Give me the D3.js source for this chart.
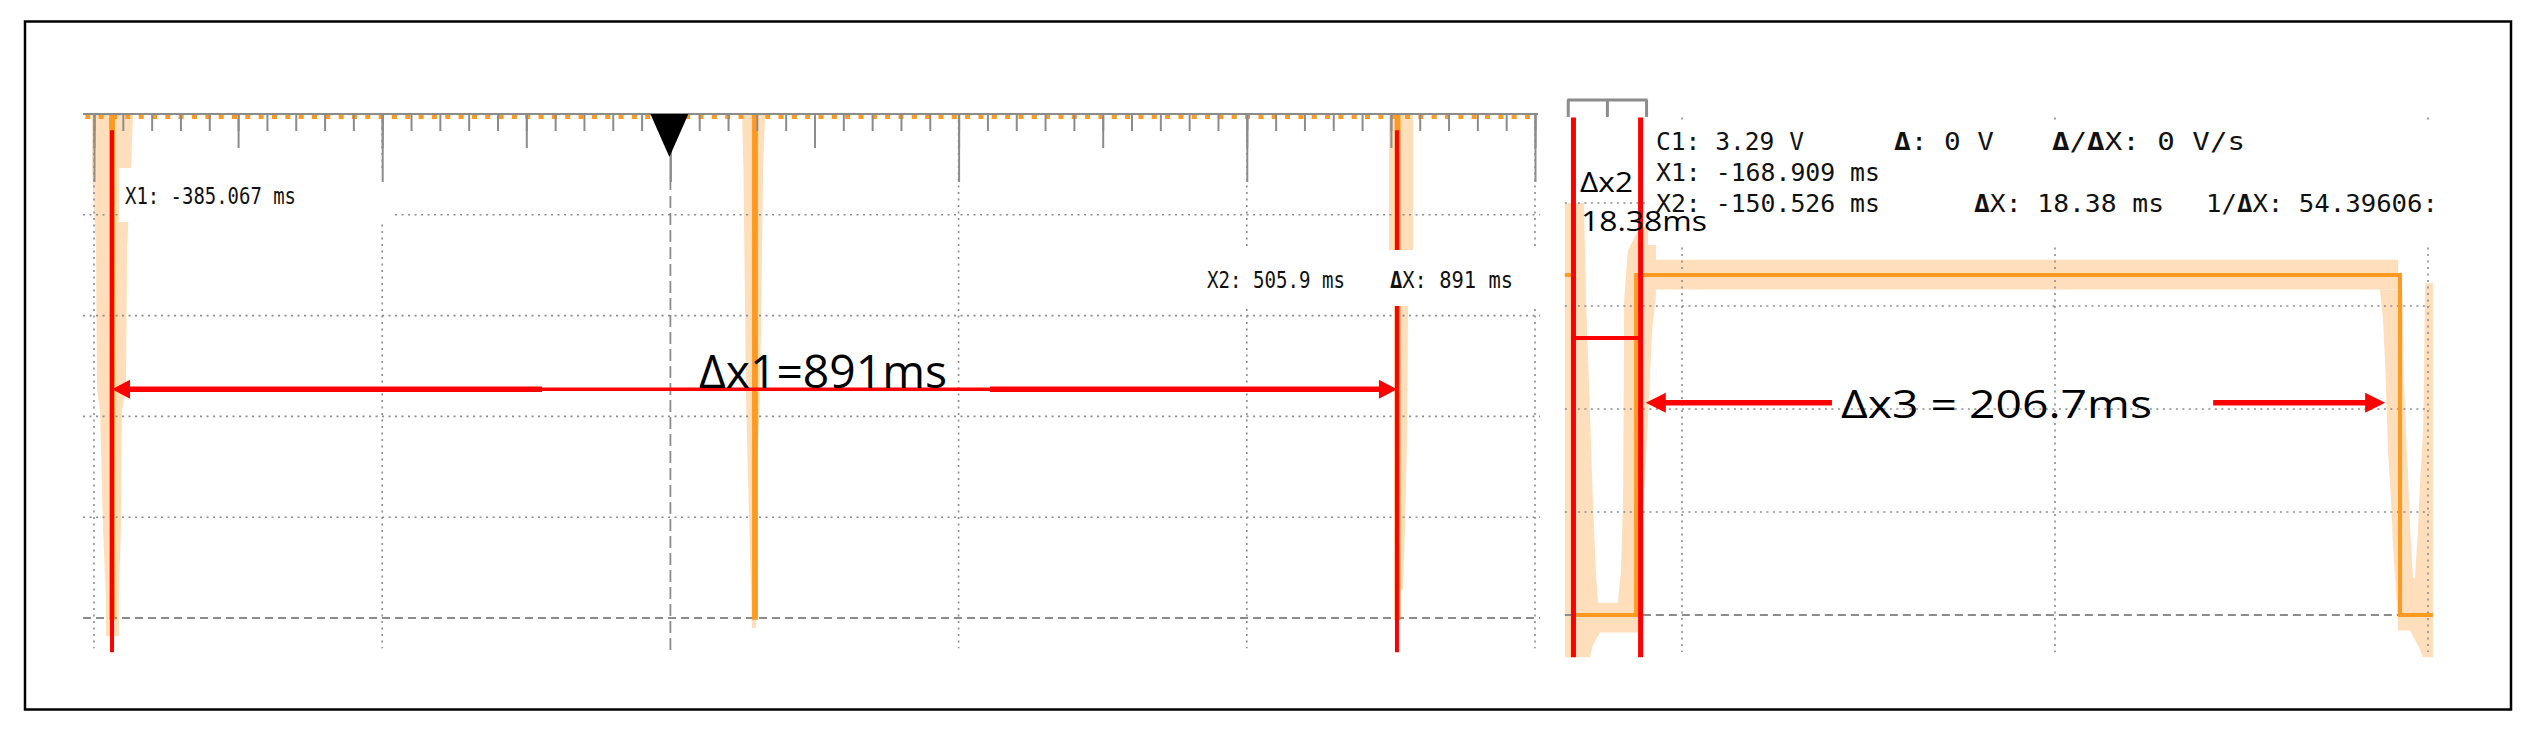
<!DOCTYPE html>
<html>
<head>
<meta charset="utf-8">
<script src="https://cdn.jsdelivr.net/npm/d3@7"></script>
<style>
  body { margin: 0; background: #fff; }
  svg { display: block; }
</style>
</head>
<body>
<div id="chart"></div>
<script>

// left capture: 200 ms/div, 0.5 V/div (high level sits above the screen)
const leftTimeDomain = [-400, 600];
const leftVoltDomain = [0, 2.5];
const leftGridTimes = [-400, -200, 200, 400, 600];
const leftGridVolts = [0.5, 1, 1.5, 2];
const leftTickStep = 20;
const leftPulses = [[-388.3, -386.7], [57.9, 59.5], [503.8, 505.4]]; // fall, rise (ms)
const leftCursors = [-387.5, 504.2];
const leftEnvelopes = [
  [[-401.4, 2.5], [-372.9, 2.5], [-374.3, 2.23], [-377.1, 1.83], [-377.8, 1.13], [-380.6, 1.03],
   [-381.3, 0.45], [-382.7, 0.09], [-382.7, -0.09], [-391.7, -0.09], [-391.7, 0.09], [-393.8, 0.45],
   [-395.8, 1.03], [-397.9, 1.13], [-398.6, 1.83], [-401.4, 2.23]],
  [[49.7, 2.5], [65.7, 2.5], [64.3, 2.22], [62.2, 1.08], [59.4, 0.68], [59.4, -0.05],
   [56.6, -0.05], [53.9, 0.68], [52.5, 1.08], [50.7, 2.22]],
  [[498.7, 2.5], [515.3, 2.5], [515.3, 1.81], [511.9, 1.55], [511.2, 0.88], [509.8, 0.46],
   [508.4, 0.14], [502.8, 0.14], [502.8, 1.55], [498.7, 1.81]]
];
const leftReadouts = ["X1: -385.067 ms", "X2: 505.9 ms", "ΔX: 891 ms"];
const dx1 = {from: -387.5, to: 504.2, level: 1.135, label: "Δx1=891ms"};

// right capture: 100 ms/div, 1 V/div
const rightTimeDomain = [-140, 60];
const rightVoltDomain = [0, 4];
const rightGridTimes = [-140, -40, 60];
const rightGridVolts = [1, 2, 3, 4];
const rightRulerTicks = [-170.5, -160, -149.5];
const rightTrace = [[-171.4, 3.3], [-169.1, 3.3], [-169.1, 0], [-152.3, 0], [-152.3, 3.3],
  [52.5, 3.3], [52.5, 0], [61.3, 0]];
const rightCursors = [-169.1, -151.1];
const rightEnvelopes = [
  [[-171.4, 4.0], [-166.3, 4.0], [-165.7, 3.06], [-163.9, 1.12], [-163.1, 0.41], [-162.5, 0.12],
   [-157.2, 0.12], [-156.4, 0.41], [-155.8, 1.12], [-155.5, 3.06], [-154.5, 3.54], [-151.3, 3.77],
   [-148.6, 3.77], [-147.0, 3.64], [-147.0, 3.09], [-148.0, 2.77], [-149.7, 1.48], [-151.3, 0.50],
   [-151.3, -0.17], [-162.0, -0.17], [-163.9, -0.29], [-164.7, -0.41], [-171.4, -0.41]],
  [[-151.3, 3.45], [52.0, 3.45], [52.0, 3.16], [-151.3, 3.16]],
  [[47.1, 3.16], [47.9, 2.89], [48.5, 2.45], [49.3, 1.57], [50.1, 1.12], [50.6, 0.70], [51.4, 0.24],
   [52.0, -0.15], [55.2, -0.15], [56.5, -0.24], [57.9, -0.34], [58.7, -0.41], [61.3, -0.41],
   [61.3, 3.22], [59.2, 3.22], [58.9, 2.25], [58.7, 1.80], [57.9, 1.31], [57.3, 0.83], [56.5, 0.36],
   [56.0, 0.36], [55.2, 0.83], [54.7, 1.31], [54.1, 1.80], [53.6, 2.25], [53.1, 3.16]]
];
const rightReadoutRows = [
  ["C1: 3.29 V", "Δ: 0 V", "Δ/ΔX: 0 V/s"],
  ["X1: -168.909 ms"],
  ["X2: -150.526 ms", "ΔX: 18.38 ms", "1/ΔX: 54.39606:"]
];
const dx2 = {level: 2.69, label: ["Δx2", "18.38ms"]};
const dx3 = {left: [-99.8, -149.7], right: [2.4, 48.5], level: 2.06, label: "Δx3 = 206.7ms"};

// ---------- drawing ----------
const W = 2544, H = 749;
const ORANGE = "#ff991f", PEACH = "#ffdfbb", RED = "#ff0000", GRID = "#8c8c8c";
const MONO = "'DejaVu Sans Mono', monospace";
const SANS = "'Open Sans', 'Liberation Sans', sans-serif";

const svg = d3.select("#chart").append("svg")
    .attr("width", W)
    .attr("height", H);
svg.append("rect").attr("width", W).attr("height", H).attr("fill", "#fff");

const xL = d3.scaleLinear().domain(leftTimeDomain).range([94, 1535]);
const yL = d3.scaleLinear().domain(leftVoltDomain).range([618, 114]);
const xR = d3.scaleLinear().domain(rightTimeDomain).range([1682, 2428]);
const yR = d3.scaleLinear().domain(rightVoltDomain).range([615, 203]);

const lineL = d3.line().x(d => xL(d[0])).y(d => yL(d[1]));
const lineR = d3.line().x(d => xR(d[0])).y(d => yR(d[1]));

// write monospaced scope text squeezed to a measured width, bold deltas
function scopeText(g, str, x, y, width, size) {
    const t = g.append("text")
        .attr("x", x).attr("y", y)
        .attr("font-family", MONO)
        .attr("font-size", size)
        .attr("fill", "#111")
        .attr("textLength", width)
        .attr("lengthAdjust", "spacingAndGlyphs");
    str.split(/(Δ)/).filter(s => s.length).forEach(s => {
        t.append("tspan").attr("font-weight", s === "Δ" ? "bold" : null).text(s);
    });
}

function arrowHead(g, tipX, y, dir, len, half) {
    g.append("path")
        .attr("d", `M${tipX},${y} L${tipX - dir * len},${y - half} L${tipX - dir * len},${y + half} Z`)
        .attr("fill", RED);
}

// ===== left capture =====
const gL = svg.append("g");

gL.selectAll("path.env").data(leftEnvelopes).join("path")
    .attr("class", "env")
    .attr("d", d => lineL(d) + "Z")
    .attr("fill", PEACH);

// grid
gL.selectAll("line.vgrid").data(leftGridTimes).join("line")
    .attr("class", "vgrid")
    .attr("x1", d => xL(d)).attr("x2", d => xL(d))
    .attr("y1", yL(2.5)).attr("y2", yL(-0.15))
    .attr("stroke", GRID).attr("stroke-width", 1.6).attr("stroke-dasharray", "2,4.5");
gL.selectAll("line.hgrid").data(leftGridVolts).join("line")
    .attr("class", "hgrid")
    .attr("x1", xL(-407.6)).attr("x2", xL(603.5))
    .attr("y1", d => yL(d)).attr("y2", d => yL(d))
    .attr("stroke", GRID).attr("stroke-width", 1.6).attr("stroke-dasharray", "2,4.5");
gL.append("line")
    .attr("x1", xL(-407.6)).attr("x2", xL(603.5))
    .attr("y1", yL(0)).attr("y2", yL(0))
    .attr("stroke", GRID).attr("stroke-width", 2.2).attr("stroke-dasharray", "8,5");
// trigger position line: short solid stem, then dashes
gL.append("line")
    .attr("x1", xL(0)).attr("x2", xL(0))
    .attr("y1", 157).attr("y2", 190)
    .attr("stroke", GRID).attr("stroke-width", 1.8);
gL.append("line")
    .attr("x1", xL(0)).attr("x2", xL(0))
    .attr("y1", 196).attr("y2", yL(-0.17))
    .attr("stroke", GRID).attr("stroke-width", 1.8).attr("stroke-dasharray", "12,5");

// trace pulses (the high level is clipped at the top of the screen)
gL.selectAll("path.pulse").data(leftPulses).join("path")
    .attr("class", "pulse")
    .attr("d", d => lineL([[d[0], 2.5], [d[0], 0], [d[1], 0], [d[1], 2.5]]))
    .attr("fill", "none")
    .attr("stroke", ORANGE)
    .attr("stroke-width", 3.5);

// red cursor lines
gL.selectAll("line.cursor").data(leftCursors).join("line")
    .attr("class", "cursor")
    .attr("x1", d => xL(d)).attr("x2", d => xL(d))
    .attr("y1", yL(2.42)).attr("y2", yL(-0.17))
    .attr("stroke", RED).attr("stroke-width", 4);

// readout boxes + text
gL.append("rect").attr("x", 119).attr("y", 168).attr("width", 274).attr("height", 54).attr("fill", "#fff");
gL.append("rect").attr("x", 1190).attr("y", 250).attr("width", 355).attr("height", 56).attr("fill", "#fff");
const leftReadPos = [[125, 204, 171], [1207, 288, 138], [1390, 288, 123]];
leftReadouts.forEach((s, i) => scopeText(gL, s, leftReadPos[i][0], leftReadPos[i][1], leftReadPos[i][2], 23));

// top time axis: clipped-signal marks, axis line, ticks
gL.append("line")
    .attr("x1", xL(-406)).attr("x2", xL(601.5))
    .attr("y1", yL(2.5) + 2.6).attr("y2", yL(2.5) + 2.6)
    .attr("stroke", ORANGE).attr("stroke-width", 5).attr("stroke-dasharray", "5,8.33");
gL.append("line")
    .attr("x1", 83).attr("x2", 1538)
    .attr("y1", yL(2.5)).attr("y2", yL(2.5))
    .attr("stroke", GRID).attr("stroke-width", 2);

const allTicks = d3.range(leftTimeDomain[0], leftTimeDomain[1] + 1, leftTickStep);
[[allTicks, 17], [allTicks.filter(t => t % 100 === 0), 34], [allTicks.filter(t => t % 200 === 0), 68]]
    .forEach(([vals, size]) => {
        gL.append("g")
            .attr("transform", `translate(0, ${yL(2.5)})`)
            .call(d3.axisBottom(xL).tickValues(vals).tickSize(size).tickFormat(""))
            .call(g => g.select(".domain").remove())
            .call(g => g.selectAll("line").attr("stroke", GRID).attr("stroke-width", 2));
    });

// trigger marker
gL.append("path")
    .attr("d", `M${xL(0) - 20},${yL(2.5)} L${xL(0) + 18},${yL(2.5)} L${xL(0) - 1},157 Z`)
    .attr("fill", "#000");

// Δx1 annotation
const ya = yL(dx1.level);
const xa1 = xL(dx1.from), xa2 = xL(dx1.to);
gL.append("line").attr("x1", xa1 + 14).attr("x2", xL(-89.1)).attr("y1", ya).attr("y2", ya)
    .attr("stroke", RED).attr("stroke-width", 5.5);
gL.append("line").attr("x1", xL(-89.1)).attr("x2", xL(221.8)).attr("y1", ya).attr("y2", ya)
    .attr("stroke", RED).attr("stroke-width", 3.6);
gL.append("line").attr("x1", xL(221.8)).attr("x2", xa2 - 14).attr("y1", ya).attr("y2", ya)
    .attr("stroke", RED).attr("stroke-width", 5.5);
arrowHead(gL, xa1, ya, -1, 18, 9.5);
arrowHead(gL, xa2, ya, 1, 18, 9.5);
gL.append("text")
    .attr("x", 699).attr("y", 388)
    .attr("font-family", SANS).attr("font-size", 46)
    .attr("textLength", 248).attr("lengthAdjust", "spacingAndGlyphs")
    .text(dx1.label);

// ===== right capture =====
const gR = svg.append("g");

gR.selectAll("path.env").data(rightEnvelopes).join("path")
    .attr("class", "env")
    .attr("d", d => lineR(d) + "Z")
    .attr("fill", PEACH);

gR.selectAll("line.vgrid").data(rightGridTimes).join("line")
    .attr("class", "vgrid")
    .attr("x1", d => xR(d)).attr("x2", d => xR(d))
    .attr("y1", yR(4.83)).attr("y2", yR(-0.36))
    .attr("stroke", GRID).attr("stroke-width", 1.6).attr("stroke-dasharray", "2,4.5");
gR.selectAll("line.hgrid").data(rightGridVolts).join("line")
    .attr("class", "hgrid")
    .attr("x1", xR(-171.4)).attr("x2", xR(60.5))
    .attr("y1", d => yR(d)).attr("y2", d => yR(d))
    .attr("stroke", GRID).attr("stroke-width", 1.6).attr("stroke-dasharray", "2,4.5");
gR.append("line")
    .attr("x1", xR(-171.4)).attr("x2", xR(61.3))
    .attr("y1", yR(0)).attr("y2", yR(0))
    .attr("stroke", GRID).attr("stroke-width", 2.2).attr("stroke-dasharray", "8,5");

// readout box covers the grid under the text block
gR.append("rect").attr("x", 1648).attr("y", 120).attr("width", 794).attr("height", 125).attr("fill", "#fff");

// small ruler at the top
gR.append("line")
    .attr("x1", xR(rightRulerTicks[0]) - 1).attr("x2", xR(rightRulerTicks[2]) + 1)
    .attr("y1", 100).attr("y2", 100)
    .attr("stroke", GRID).attr("stroke-width", 3);
gR.selectAll("line.rtick").data(rightRulerTicks).join("line")
    .attr("class", "rtick")
    .attr("x1", d => xR(d)).attr("x2", d => xR(d))
    .attr("y1", 100).attr("y2", 117)
    .attr("stroke", GRID).attr("stroke-width", 3);

// trace
gR.append("path")
    .attr("d", lineR(rightTrace))
    .attr("fill", "none")
    .attr("stroke", ORANGE)
    .attr("stroke-width", 4);

// cursors and Δx2 bar
gR.selectAll("line.cursor").data(rightCursors).join("line")
    .attr("class", "cursor")
    .attr("x1", d => xR(d)).attr("x2", d => xR(d))
    .attr("y1", yR(4.83)).attr("y2", yR(-0.41))
    .attr("stroke", RED).attr("stroke-width", 5);
gR.append("line")
    .attr("x1", xR(rightCursors[0])).attr("x2", xR(rightCursors[1]))
    .attr("y1", yR(dx2.level)).attr("y2", yR(dx2.level))
    .attr("stroke", RED).attr("stroke-width", 4);

// readouts
const rowY = [150, 181, 212];
const rowX = [[1656, 1894, 2052], [1656], [1656, 1974, 2206]];
const rowW = [[148, 100, 193], [224], [224, 190, 232]];
rightReadoutRows.forEach((row, r) => row.forEach((s, i) =>
    scopeText(gR, s, rowX[r][i], rowY[r], rowW[r][i], 24)));

// Δx2 labels
gR.append("text")
    .attr("x", 1580).attr("y", 192)
    .attr("font-family", SANS).attr("font-size", 28)
    .attr("textLength", 53).attr("lengthAdjust", "spacingAndGlyphs")
    .text(dx2.label[0]);
gR.append("text")
    .attr("x", 1581).attr("y", 231)
    .attr("font-family", SANS).attr("font-size", 28)
    .attr("textLength", 126).attr("lengthAdjust", "spacingAndGlyphs")
    .text(dx2.label[1]);

// Δx3 arrows + label
const yb = yR(dx3.level);
gR.append("line").attr("x1", xR(dx3.left[0])).attr("x2", xR(dx3.left[1]) + 16).attr("y1", yb).attr("y2", yb)
    .attr("stroke", RED).attr("stroke-width", 5.5);
arrowHead(gR, xR(dx3.left[1]), yb, -1, 20, 10);
gR.append("line").attr("x1", xR(dx3.right[0])).attr("x2", xR(dx3.right[1]) - 16).attr("y1", yb).attr("y2", yb)
    .attr("stroke", RED).attr("stroke-width", 5.5);
arrowHead(gR, xR(dx3.right[1]), yb, 1, 20, 10);
gR.append("text")
    .attr("x", 1841).attr("y", 418)
    .attr("font-family", SANS).attr("font-size", 39)
    .attr("textLength", 311).attr("lengthAdjust", "spacingAndGlyphs")
    .text(dx3.label);

// outer frame
svg.append("rect")
    .attr("x", 25).attr("y", 21.5)
    .attr("width", 2486).attr("height", 688)
    .attr("fill", "none")
    .attr("stroke", "#000")
    .attr("stroke-width", 2.5);
</script>
</body>
</html>
